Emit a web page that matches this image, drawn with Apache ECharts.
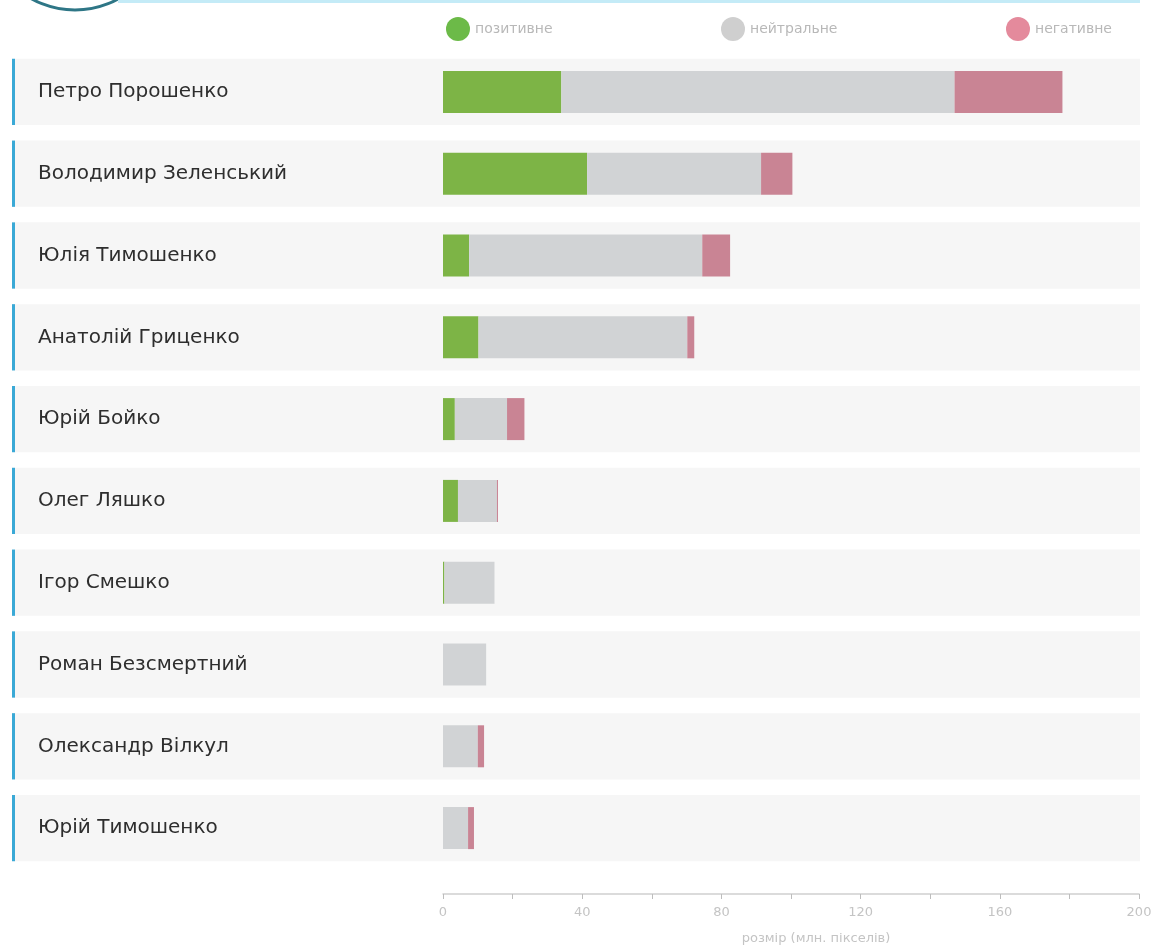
<!DOCTYPE html>
<html>
<head>
<meta charset="utf-8">
<script src="https://cdn.jsdelivr.net/npm/echarts@6/dist/echarts.min.js"></script>
<style>
html,body{margin:0;padding:0;background:#fff;}
#main{width:1157px;height:949px;}
</style>
</head>
<body>
<div id="main"></div>
<script>
const names = ['Петро Порошенко','Володимир Зеленський','Юлія Тимошенко','Анатолій Гриценко','Юрій Бойко','Олег Ляшко','Ігор Смешко','Роман Безсмертний','Олександр Вілкул','Юрій Тимошенко'];
const positive = [34, 41.4, 7.5, 10.2, 3.4, 4.3, 0.4, 0, 0, 0];
const neutral  = [113, 50, 67, 60, 15, 11.2, 14.4, 12.4, 10, 7.2];
const negative = [31, 9, 8, 2, 5, 0.3, 0, 0, 1.8, 1.7];
const seriesNames = ['позитивне','нейтральне','негативне'];
const legendColors = ['#6cba48','#cfcfcf','#e48a9c'];
const xTicks = [0, 40, 80, 120, 160, 200];

const chart = echarts.init(document.getElementById('main'));
const font = '"DejaVu Sans", "Liberation Sans", Arial, sans-serif';
const legendLefts = [441, 716, 1001];

chart.setOption({
  animation: false,
  backgroundColor: '#ffffff',
  graphic: [
    {type:'circle', shape:{cx:75, cy:-80, r:90}, style:{fill:'none', stroke:'#2e7686', lineWidth:3}, z:10},
    {type:'line', shape:{x1:118, y1:1.5, x2:1140, y2:1.5}, style:{stroke:'#c4ebf7', lineWidth:3}, z:10}
  ],
  legend: seriesNames.map((n, i) => ({
    top: 12,
    left: legendLefts[i],
    itemWidth: 24,
    itemHeight: 24,
    icon: 'circle',
    selectedMode: false,
    textStyle: {color:'#b8b8b8', fontSize:14, fontFamily: font},
    data: [{name: n, itemStyle:{color: legendColors[i]}}]
  })),
  grid: {left: 443, right: 18, top: 51, bottom: 80, containLabel: false, outerBoundsMode: 'none'},
  xAxis: {
    type: 'value',
    min: 0, max: 200, interval: 20,
    offset: 25,
    axisLine: {show:true, lineStyle:{color:'#cfcfcf', width:1.5}},
    axisTick: {show:true, length:5, lineStyle:{color:'#bdbdbd'}},
    splitLine: {show:false},
    axisLabel: {
      color:'#c4c4c4', fontSize:13, fontFamily: font, margin: 12,
      formatter: v => xTicks.indexOf(v) >= 0 ? String(v) : ''
    },
    name: 'розмір (млн. пікселів)',
    nameLocation: 'middle',
    nameGap: 38,
    nameTextStyle: {color:'#c4c4c4', fontSize:13, fontFamily: font, padding:[0,0,0,50]}
  },
  yAxis: {
    type: 'category',
    inverse: true,
    data: names,
    axisLine: {show:false},
    axisTick: {show:false},
    axisLabel: {align:'left', margin:405, color:'#2e2e2e', fontSize:20, fontFamily: font}
  },
  series: [
    {
      type: 'custom',
      silent: true,
      clip: false,
      z: 0,
      data: names.map((n,i)=>[0,i]),
      encode: {x:0, y:1},
      renderItem: function(params, api){
        const c = api.coord([0, api.value(1)]);
        const band = api.size([0,1])[1];
        const h = band * 0.81;
        const cs = params.coordSys;
        const right = cs.x + cs.width + 1;
        return {
          type:'group',
          children:[
            {type:'rect', shape:{x:12, y:c[1]-h/2, width:right-12, height:h}, style:{fill:'#f6f6f6'}},
            {type:'rect', shape:{x:12, y:c[1]-h/2, width:3, height:h}, style:{fill:'#3aa9d6'}}
          ]
        };
      }
    },
    {name: seriesNames[0], type:'bar', stack:'s', barWidth:42, data: positive, itemStyle:{color:'#7db446'}, z:2},
    {name: seriesNames[1], type:'bar', stack:'s', barWidth:42, data: neutral, itemStyle:{color:'#d1d3d5'}, z:2},
    {name: seriesNames[2], type:'bar', stack:'s', barWidth:42, data: negative, itemStyle:{color:'#c98494'}, z:2}
  ]
});
</script>
</body>
</html>
